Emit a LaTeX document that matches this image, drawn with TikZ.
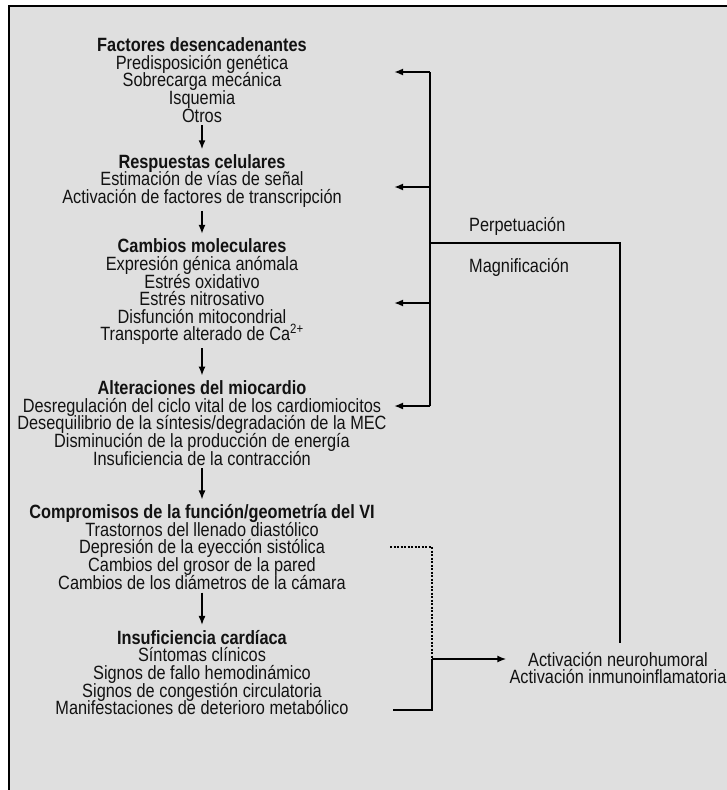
\documentclass[tikz,border=0pt]{standalone}
\usepackage{fontspec}
\setmainfont{Liberation Sans}[FakeStretch=0.85]
\usetikzlibrary{arrows.meta}
\definecolor{panel}{RGB}{223,223,223}
\definecolor{ink}{RGB}{18,18,18}
\newcommand{\blockfont}{\fontsize{19.2}{17.6}\selectfont\lineskiplimit=-\maxdimen}
\begin{document}
\begin{tikzpicture}[x=1pt,y=-1pt,
  block/.style={align=center, font=\blockfont, text=ink, inner sep=0pt},
  label/.style={anchor=west, font=\blockfont, text=ink, inner sep=0pt},
  flow/.style={line width=1.5pt, -{Latex[length=9pt,width=7pt]}, shorten <=3pt, shorten >=5pt},
  bar/.style={line width=2pt},
  feed/.style={line width=2pt, -{Latex[length=9pt,width=7pt]}},
  weak/.style={line width=1.8pt, dash pattern=on 2pt off 1.5pt}]
\useasboundingbox (0,0) rectangle (727,790);
% panel with its frame
\fill[white] (0,0) rectangle (727,790);
\fill[panel] (9,6) rectangle (727,790);
\draw[line width=2pt] (9,790) -- (9,6) -- (727,6);

% main chain
\node[block] (b1) at (202,80) {\textbf{Factores desencadenantes}\\Predisposición genética\\Sobrecarga mecánica\\Isquemia\\Otros};
\node[block] (b2) at (202,181) {\textbf{Respuestas celulares}\\Estimación de vías de señal\\Activación de factores de transcripción};
\node[block] (b3) at (202,292) {\textbf{Cambios moleculares}\\Expresión génica anómala\\Estrés oxidativo\\Estrés nitrosativo\\Disfunción mitocondrial\\Transporte alterado de Ca\textsuperscript{2+}};
\node[block] (b4) at (202,423) {\textbf{Alteraciones del miocardio}\\Desregulación del ciclo vital de los cardiomiocitos\\Desequilibrio de la síntesis/degradación de la MEC\\Disminución de la producción de energía\\Insuficiencia de la contracción};
\node[block] (b5) at (202,547) {\textbf{Compromisos de la función/geometría del VI}\\Trastornos del llenado diastólico\\Depresión de la eyección sistólica\\Cambios del grosor de la pared\\Cambios de los diámetros de la cámara};
\node[block] (b6) at (202,672.5) {\textbf{Insuficiencia cardíaca}\\Síntomas clínicos\\Signos de fallo hemodinámico\\Signos de congestión circulatoria\\Manifestaciones de deterioro metabólico};

\draw[flow] (b1.south) -- (b2.north);
\draw[flow] (b2.south) -- (b3.north);
\draw[flow] (b3.south) -- (b4.north);
\draw[flow] (b4.south) -- (b5.north);
\draw[flow] (b5.south) -- (b6.north);

% side loop
\node[block] (act) at (618,668) {Activación neurohumoral\\Activación inmunoinflamatoria};
\node[label] (perp) at (469,226) {Perpetuación};
\node[label] (magn) at (469,267) {Magnificación};

\coordinate (bt) at (430,72);
\coordinate (bb) at (430,406);
\coordinate (jn) at (430,243);
\coordinate (jc) at (620,243);
\coordinate (t1) at (394,72);
\coordinate (t2) at (394,187);
\coordinate (t3) at (394,303);
\coordinate (t4) at (394,406);
\coordinate (m2) at (430,187);
\coordinate (m3) at (430,303);

\draw[bar] (bt) -- (bb);
\draw[feed] (bt) -- (t1);
\draw[feed] (m2) -- (t2);
\draw[feed] (m3) -- (t3);
\draw[feed] (bb) -- (t4);
\draw[bar, shorten >=9pt] (jn) -- (jc) -- (jc |- act.north);

\coordinate (d1) at (390,547);
\coordinate (dk) at (432,547);
\coordinate (jm) at (432,659);
\coordinate (s1) at (393,710);
\coordinate (sk) at (432,710);
\draw[weak] (d1) -- (dk) -- (jm);
\draw[bar] (s1) -- (sk) -- (jm);
\draw[feed, shorten >=3pt] (jm) -- (jm -| act.west);
\end{tikzpicture}
\end{document}
